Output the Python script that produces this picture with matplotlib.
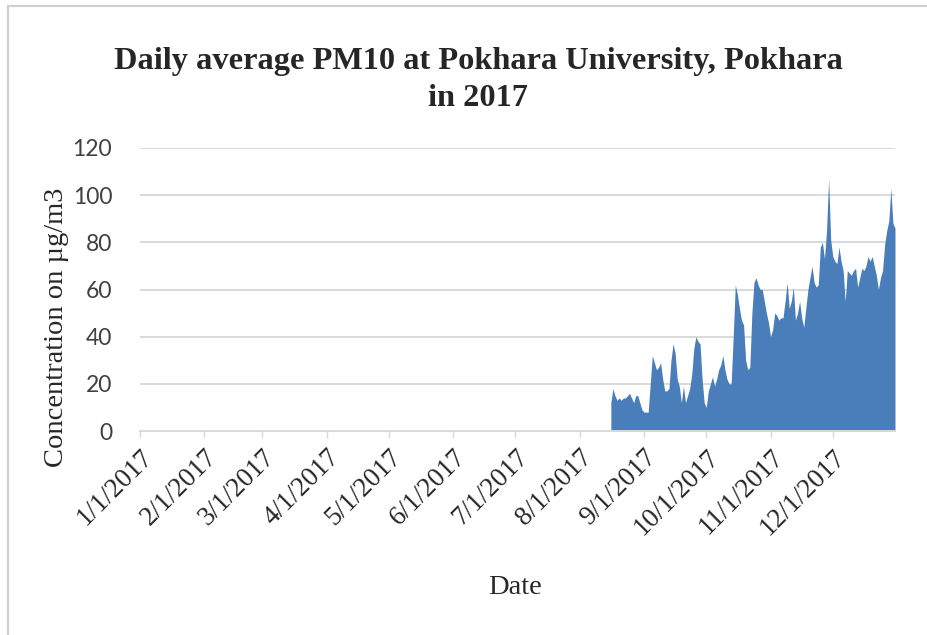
import numpy as np
import pandas as pd
import matplotlib
matplotlib.use('Agg')
import matplotlib.pyplot as plt
from matplotlib.lines import Line2D

# daily average PM10 (ug/m3), 16 Aug 2017 -> 31 Dec 2017
start_date = '2017-08-16'
pm10 = [
    12, 18, 15, 13, 14, 13, 14, 14, 15, 16, 14, 12, 15, 15, 12, 9, 8,          # Aug
    8, 8, 20, 32, 29, 26, 27, 29, 22, 17, 17, 18, 30, 37, 33, 22, 19, 12, 19,
    12, 15, 18, 24, 35, 40, 38, 37, 22, 12, 10,                                 # Sep
    17, 20, 23, 19, 22, 26, 28, 32, 26, 22, 20, 20, 40, 62, 58, 52, 47, 45,
    30, 26, 27, 50, 63, 65, 62, 60, 60, 55, 50, 46,                             # Oct
    40, 43, 50, 49, 47, 48, 48, 55, 63, 52, 55, 61, 47, 50, 55, 48, 44, 52,
    60, 65, 70, 63, 61, 62, 78, 80, 73, 85, 107, 81,                            # Nov
    74, 72, 71, 78, 72, 68, 55, 68, 67, 66, 68, 69, 61, 65, 69, 68, 70, 74,
    72, 74, 70, 66, 60, 65, 68, 79, 85, 89, 103, 88, 86,                        # Dec
]
tick_dates = ['2017-%02d-01' % m for m in range(1, 13)]
tick_labels = ['%d/1/2017' % m for m in range(1, 13)]
y_ticks = [0, 20, 40, 60, 80, 100, 120]

dates = pd.date_range(start_date, periods=len(pm10), freq='D')

fig = plt.figure(figsize=(9.28, 6.35), dpi=100)
ax = fig.add_axes([140/928, 1 - 431/635, (895 - 140)/928, (431 - 148)/635])

ax.fill_between(dates, 0, pm10, color='#4a7ebb', linewidth=0)

ax.set_xlim(pd.Timestamp('2017-01-01'), pd.Timestamp('2017-12-31'))
ax.set_ylim(0, 120)
ax.set_yticks(y_ticks)
ax.set_yticklabels([str(v) for v in y_ticks], fontsize=16.5, family='Lato', color='#404040')
ax.set_xticks(pd.to_datetime(tick_dates))
ax.set_xticklabels(tick_labels, rotation=45, ha='right', rotation_mode='anchor',
                   fontsize=19.5, family='Liberation Serif', color='#262626')

ax.grid(axis='y', color='#d9d9d9', linewidth=1.4)
ax.set_axisbelow(True)
for s in ['top', 'right', 'left']:
    ax.spines[s].set_visible(False)
ax.spines['bottom'].set_color('#d9d9d9')
ax.spines['bottom'].set_linewidth(1.4)
ax.tick_params(axis='y', length=0, pad=20)
ax.tick_params(axis='x', length=5, color='#d9d9d9', width=1, pad=5)

ax.set_ylabel('Concentration on µg/m3', fontsize=20.5, family='Liberation Serif',
              color='#262626')
ax.yaxis.set_label_coords(-0.094, 0.367)
fig.text(515/928, 1 - 588/635, 'Date', fontsize=20.5, family='Liberation Serif',
         color='#262626', ha='center', va='center')
fig.text(478/928, 1 - 80/635, 'Daily average PM10 at Pokhara University, Pokhara\nin 2017',
         fontsize=23.3, family='Liberation Serif', weight='bold', color='#262626',
         ha='center', va='center', linespacing=1.4)

# thin frame at the left and top of the chart area
fig.add_artist(Line2D([8/928, 8/928], [0, 1 - 6/635], transform=fig.transFigure,
                      color='#d0d0d0', linewidth=1.5))
fig.add_artist(Line2D([8/928, 1], [1 - 6/635, 1 - 6/635], transform=fig.transFigure,
                      color='#d0d0d0', linewidth=1.5))

fig.savefig('out.png', dpi=100)
